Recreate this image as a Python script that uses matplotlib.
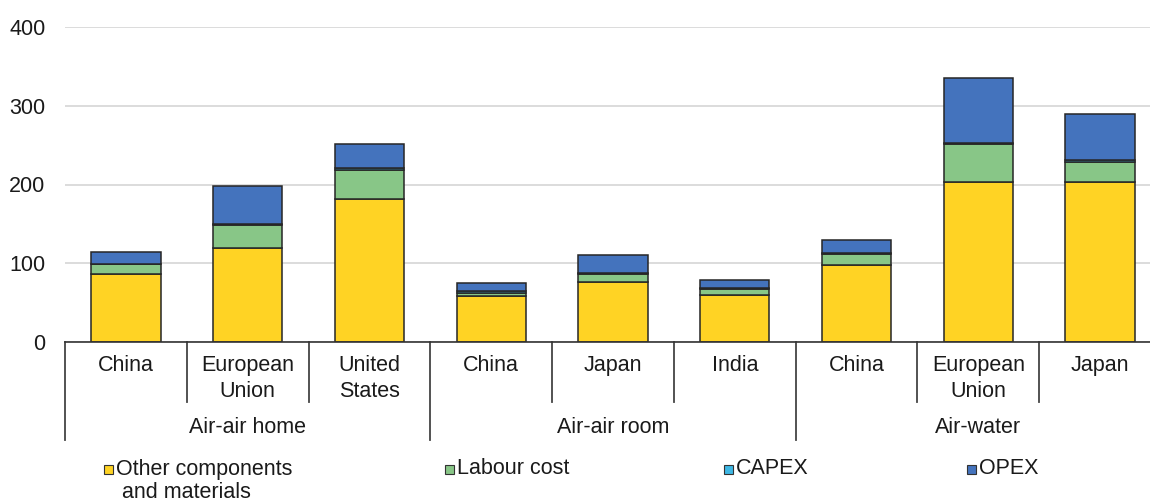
import numpy as np
import matplotlib
matplotlib.use("Agg")
import matplotlib.pyplot as plt
from matplotlib.patches import Rectangle

plt.rcParams["font.family"] = ["Liberation Sans", "DejaVu Sans"]

countries = ["China", "European\nUnion", "United\nStates",
             "China", "Japan", "India",
             "China", "European\nUnion", "Japan"]
groups = ["Air-air home", "Air-air room", "Air-water"]
series_names = ["Other components\nand materials", "Labour cost", "CAPEX", "OPEX"]
colors = ["#FFD324", "#88C687", "#3DB7E4", "#4473BD"]

other = [86, 120, 181, 59, 76, 60, 98, 203, 203]
labour = [12.5, 28, 37, 3, 10, 7, 14, 48, 25]
capex = [1, 1.5, 3, 2.5, 2, 2, 1.5, 2, 3]
opex = [15, 49, 31, 10, 23, 10, 16, 82, 58]
yticks = [0, 100, 200, 300, 400]

W, H = 1150, 503
FS = 15.5
fig = plt.figure(figsize=(W / 100, H / 100), dpi=100)
ax = fig.add_axes([65 / W, (H - 342) / H, 1096 / W, 315 / H])

x = np.arange(len(countries))
bottom = np.zeros(len(countries))
for vals, col in zip([other, labour, capex, opex], colors):
    ax.bar(x, vals, 0.57, bottom=bottom, color=col, edgecolor="#262626",
           linewidth=1.1, zorder=3)
    bottom += np.array(vals)

ax.set_xlim(-0.5, 8.5)
ax.set_ylim(0, 400)
ax.set_yticks(yticks)
ax.set_xticks([])
ax.grid(axis="y", color="#d9d9d9", linewidth=1.3, zorder=0)
for s in ["left", "top", "right"]:
    ax.spines[s].set_visible(False)
ax.spines["bottom"].set_color("#333333")
ax.spines["bottom"].set_linewidth(1.2)
ax.spines["bottom"].set_zorder(4)
ax.tick_params(axis="y", length=0, pad=14, labelsize=FS, labelcolor="#1a1a1a")

tr = ax.get_xaxis_transform()
# separators between categories
for xs in [-0.5, 2.5, 5.5, 8.5]:
    ax.plot([xs, xs], [0, -0.311], transform=tr, color="#444444", lw=1.3, clip_on=False)
for xs in [0.5, 1.5, 3.5, 4.5, 6.5, 7.5]:
    ax.plot([xs, xs], [0, -0.19], transform=tr, color="#444444", lw=1.3, clip_on=False)

for xi, lab in zip(x, countries):
    ax.text(xi, -0.04, lab, transform=tr, ha="center", va="top", fontsize=FS,
            color="#1a1a1a", linespacing=1.35)
for gi, g in enumerate(groups):
    ax.text(gi * 3 + 1, -0.27, g, transform=tr, ha="center", va="center",
            fontsize=FS, color="#1a1a1a")

# legend drawn by hand
leg_x = [108, 449, 728, 971]
for lx, name, col in zip(leg_x, series_names, colors):
    fig.patches.append(Rectangle(((lx - 4.5) / W, (H - 469 - 4.5) / H), 9 / W, 9 / H,
                                 transform=fig.transFigure, facecolor=col,
                                 edgecolor="#333333", linewidth=0.8))
    fig.text((lx + 8) / W, (H - 469) / H, name.split("\n")[0], ha="left",
             va="center", fontsize=FS, color="#1a1a1a")
    if "\n" in name:
        fig.text((lx + 14) / W, (H - 492) / H, name.split("\n")[1], ha="left",
                 va="center", fontsize=FS, color="#1a1a1a")

fig.savefig("out.png", dpi=100)
